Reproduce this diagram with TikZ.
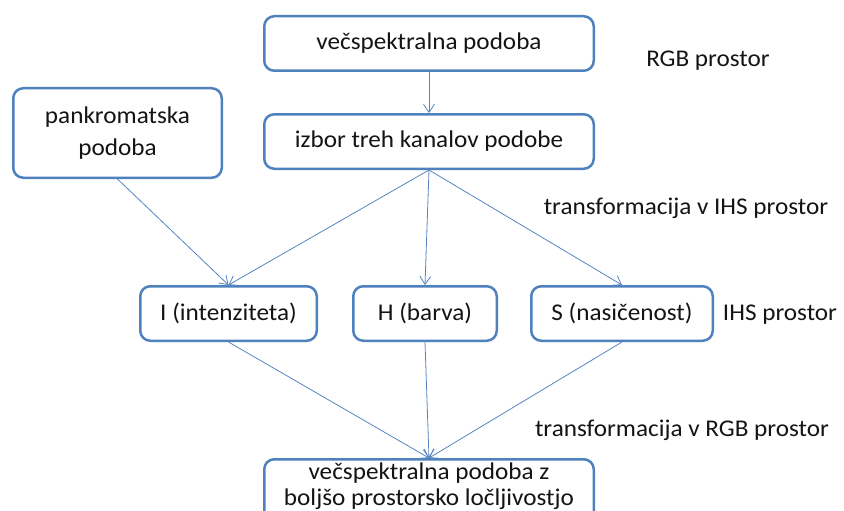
\documentclass[tikz,border=0pt]{standalone}
\usepackage{fontspec}
\setmainfont{Carlito}[FakeStretch=1.05]
\usepackage{tikz}
\usetikzlibrary{arrows.meta}

\definecolor{boxblue}{RGB}{79,129,189}
\definecolor{lineblue}{RGB}{86,132,194}
\definecolor{txt}{RGB}{20,20,20}

\begin{document}
\begin{tikzpicture}[x=1pt,y=-1pt,
  box/.style={draw=boxblue,line width=2.5pt,rounded corners=10pt,fill=white,
    text=txt,inner sep=3pt,minimum height=54.5pt,align=center,
    font=\fontsize{24}{32}\selectfont},
  lbl/.style={text=txt,inner sep=0pt,font=\fontsize{24}{29}\selectfont},
  arr/.style={->,draw=lineblue,line width=0.8pt},
  >={Straight Barb[length=8pt,width=11pt]}]

\useasboundingbox (0,0) rectangle (844,511);
\clip (0,0) rectangle (844,511);

\node[box,minimum width=329.5pt] (ms) at (429,43.5) {večspektralna podoba};

\node[box,minimum width=329.5pt] (izb) at (429,141.5) {izbor treh kanalov podobe};

\node[box,minimum width=208.5pt,minimum height=89.5pt] (pan) at (117.5,133) {pankromatska\\podoba};

\node[box,minimum width=176.5pt] (ii) at (228.5,313.5) {I (intenziteta)};

\node[box,minimum width=143.5pt] (hh) at (425,313.5) {H (barva)};

\node[box,minimum width=181.5pt] (ss) at (622,313.5) {S (nasičenost)};

\node[box,minimum width=329.5pt,anchor=north,inner ysep=3.5pt,text depth=60pt,
  font=\fontsize{24}{26}\selectfont] (out) at (429,458)
  {večspektralna podoba z\\boljšo prostorsko ločljivostjo};

\node[lbl] (rgb) at (708,61) {RGB prostor};
\node[lbl] (tihs) at (686,208) {transformacija v IHS prostor};
\node[lbl] (ihs) at (780,315) {IHS prostor};
\node[lbl] (trgb) at (682,430) {transformacija v RGB prostor};


\draw[arr] (ms) -- (izb);
\draw[arr] (izb.south) -- (ii.north);
\draw[arr] (izb.south) -- (hh.north);
\draw[arr] (izb.south) -- (ss.north);
\draw[arr] (pan.south) -- (ii.north);
\draw[arr] (ii.south) -- (out.north);
\draw[arr] (hh.south) -- (out.north);
\draw[arr] (ss.south) -- (out.north);


\end{tikzpicture}
\end{document}
